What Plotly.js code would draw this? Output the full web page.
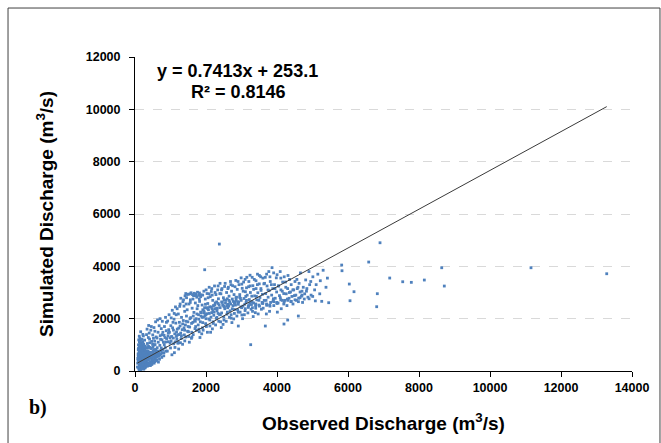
<!DOCTYPE html>
<html>
<head>
<meta charset="utf-8">
<script src="https://cdn.plot.ly/plotly-3.0.1.min.js"></script>
<style>
html,body{margin:0;padding:0;background:#fff;}
#chart{width:661px;height:443px;}
</style>
</head>
<body>
<div id="chart"></div>
<script>
// Observed (x) and simulated (y) discharge, m3/s
const obsQ = [
120,150,180,95,210,240,130,170,260,200,110,145,230,280,190,125,250,160,215,275,105,140,235,185,300,90,265,155,205,120,175,225,290,135,245,195,85,115,285,230,165,255,205,140,180,300,220,160,270,100,190,240,130,210,280,150,175,265,120,230,
310,330,360,390,420,450,480,510,540,570,320,350,380,410,440,470,500,530,560,590,340,400,460,520,580,370,430,490,550,600,315,345,375,405,435,465,495,525,555,585,325,385,445,505,565,355,415,475,535,595,362,418,482,546,578,
610,640,670,700,730,760,790,820,850,880,620,650,680,710,740,770,800,830,860,890,625,655,690,720,755,785,815,845,875,635,705,765,825,885,660,740,810,870,
910,940,970,1000,1030,1060,1090,1120,1150,1180,920,960,1010,1050,1100,1140,1190,930,990,1040,1080,1130,1170,950,1020,1070,1110,1160,1200,985,
1210,1240,1270,1300,1330,1360,1390,1420,1450,1480,1220,1260,1310,1350,1400,1440,1490,1230,1280,1340,1380,1430,1470,1250,1380,1430,1410,1460,1290,
1510,1540,1570,1600,1630,1660,1690,1720,1750,1780,1520,1560,1610,1650,1700,1740,1790,1530,1590,1640,1680,1730,1770,1550,1580,1620,1670,1710,1760,1800,1500,1815,1860,
1810,1840,1870,1900,1930,1960,1990,2020,2050,2080,1820,1850,1890,1940,1980,2030,2070,1830,1880,1920,1970,2010,2060,2090,1910,1950,2000,2040,2100,1860,2025,1985,
2110,2140,2170,2200,2230,2260,2290,2320,2350,2380,2120,2150,2190,2240,2280,2330,2370,2130,2180,2220,2270,2310,2360,2390,2160,2210,2250,2300,2340,2395,2175,
2410,2440,2470,2500,2530,2560,2590,2620,2650,2680,2420,2450,2490,2540,2580,2630,2670,2430,2480,2520,2570,2610,2660,2690,2460,2510,2600,2640,
2710,2740,2770,2800,2830,2860,2890,2920,2950,2980,2720,2750,2790,2840,2880,2930,2970,2730,2780,2820,2870,2910,2960,2990,2760,2850,
3010,3040,3070,3100,3130,3160,3190,3220,3250,3280,3020,3060,3110,3150,3200,3240,3290,3030,3080,3140,3180,3230,3270,3120,
3310,3340,3370,3400,3430,3460,3490,3520,3550,3580,3320,3360,3410,3450,3500,3540,3590,3330,3390,3470,3560,3420,
3610,3640,3680,3710,3750,3780,3820,3850,3880,3630,3670,3720,3770,3810,3860,3700,3790,3890,
3910,3950,3990,4030,4070,4110,4150,4190,3930,3980,4040,4090,4160,4010,4120,
4220,4260,4300,4340,4380,4420,4470,4240,4310,4400,4450,4280,4490,
4530,4570,4610,4650,4690,4740,4560,4660,4720,4780,
4830,4870,4920,4960,5010,5060,4900,5080,
5150,5220,5300,5260,5380,5456,5420,
2376,1963,3259,4601,4301,4197,3671,2910,5822,5831,6037,6169,6057,6583,6902,6826,6808,7175,7541,7784,8150,8640,8713,11155,13288,
70,75,80,88,92,98,102,108,112,118,124,128,134,138,142,148,152,158,162,168,172,178,182,188,192,198,202,208,212,218,222,228,232,238,242,248,252,258,262,268,272,278,282,288,294,305,312,322,335,342,352,358,368,378,388,398,408,422,438,452,468,486,502,516,532,548,562,576,592,606,618,646,672,698,724,752,
143,187,226,263,117,156,199,247,286,318,347,391,433,476,521,
938,1017,1083,1168,1232,1287,1342,1398,1441,1497,1548,1593,1641,1699,1743,1797,1848,1893,1941,1998,2047,2092,2149,2193,2248,2291,2343,2398,2441,2497,2549,2591,2648,2693,2741,2799,2843,2897,2948,2991,3047,3093,3141,3197,3243,3298,3342,3397,3448,3491,3547,3593,3649,3691,3747,3793,3841,3898,3943,3991,4047,4093,4149,4191,4247,4291,4349,4391,4447,4549,4591,4649,4703,4768,4841,
1104,1188,1271,1366,1452,1557,1633,1728,1812,1907,2003,2088,2162,2257,2341,2438,2523,2617,2702,2818,2903,3008,3102,3207,3301,3408,3503,3602,3708,3801,3906,4002,4108,4203,4352,4507,4622,4808,4951,5103,
1126,1213,1308,1402,1507,1603,1708,1802,1908,2003,2107,2202,2308,2404,2506,2603,2708,2802,2907,3004,3106,3203,3308,3402,3507,3603,3706,3802,3907,4003,4106,4202,4307,4402,4508,4603,4707,4904,5006,5204
];
const simQ = [
80,210,140,320,260,390,450,520,180,610,690,760,560,470,850,930,720,1010,1120,880,1190,1260,1340,390,300,560,640,300,460,620,700,820,950,1080,1030,1210,420,240,120,90,60,330,160,540,980,660,1400,1500,1180,870,740,240,160,380,560,640,430,790,1330,980,
180,420,290,650,220,510,380,760,300,610,880,1050,940,1220,870,1130,1380,990,1520,820,1600,1450,1700,1250,1880,560,720,580,450,700,340,760,1280,480,360,860,1020,640,1140,400,1390,1740,1560,920,1010,200,900,250,1660,1300,690,1080,710,820,540,
420,760,560,980,640,1190,820,1360,900,1540,1260,1480,1730,1350,1620,1900,1100,1700,2050,1240,890,1100,450,1210,520,1480,700,1280,760,1950,2000,1390,1010,1860,340,880,580,1110,
760,1120,1480,880,1320,1650,1040,1420,1830,1210,1910,2150,1730,2320,1980,2450,1600,1340,1060,620,1260,1110,1490,1580,2030,1860,700,2150,1380,1270,
1060,1390,1720,1240,1580,1930,1380,1760,2100,1520,2180,2470,2050,2650,2280,2560,1880,840,1080,1020,1650,1300,2340,1860,2480,2960,2870,2930,2780,
1320,1680,2040,1480,1860,2240,1620,2000,2380,1760,2560,2720,2400,2880,2600,2820,2150,1100,1250,1390,1950,1560,2500,2950,2990,2920,2970,2940,3010,2890,2930,2980,2910,
1500,1880,2230,1650,2060,2420,1810,2190,2580,1990,2660,2840,2520,3050,2750,2960,2340,1280,1420,1560,2120,1700,2800,3200,2340,2230,2000,1480,2450,2100,2420,2550,
1720,2060,2380,1880,2250,2600,2010,2400,2760,2160,2840,3040,2700,3250,2920,3100,2520,1480,1610,2130,1760,2300,1900,2960,2230,2500,2380,2640,2200,3350,2900,
1880,2220,2520,2060,2380,2700,2170,2550,2860,2300,2950,3150,2800,3350,3000,3200,2640,1660,1780,2450,1900,2420,2050,3420,2620,2720,2760,2480,
2020,2380,2660,2200,2520,2820,2340,2640,2920,2450,3050,3260,2920,3460,3120,3300,2780,1850,1990,2620,2100,2550,2250,3560,2500,2700,
2140,2480,2770,2310,2620,2900,2430,2730,3000,2540,3160,3400,3030,3580,3220,3660,2860,2000,2150,2700,2220,2600,2360,2850,
2280,2600,2870,2400,2720,2990,2520,2810,3080,2620,3260,3500,3150,3700,3330,3600,2930,2080,2230,2180,2360,2850,
2400,2700,2960,2510,2820,3070,2620,2900,3150,3330,3580,3250,3800,3420,3950,2180,2280,2680,
2500,2780,3020,2600,2880,3100,2700,2960,3300,3560,3250,3800,3400,2250,2380,
2700,2950,3150,2780,3020,2850,3100,3400,3650,3300,2560,2500,2880,
2900,3150,2780,3020,2860,3200,3500,3750,2620,2950,
3050,2820,3300,2900,3600,3100,3800,2680,
3700,3450,3850,2662,3200,2610,3550,
4851,3870,1006,2101,1948,1795,1719,1719,4049,3832,3323,3030,2686,4164,4901,2954,2457,3553,3411,3388,3476,3946,3247,3946,3717,
150,300,480,650,820,1000,110,380,540,760,1120,300,680,900,90,420,1180,560,820,250,1080,620,350,920,520,130,780,1010,330,680,150,460,880,620,140,510,930,410,240,690,360,800,210,590,410,520,720,260,610,450,880,320,760,420,250,580,700,530,620,300,460,540,410,680,520,640,360,760,520,600,540,650,700,620,780,700,
200,170,230,120,40,60,100,70,150,230,190,260,210,300,330,
1450,1150,1560,1320,1640,1450,1800,1560,1900,1700,2000,1820,2100,1900,2180,1980,2250,2050,2300,2150,2380,2200,2450,2300,2520,2380,2580,2420,2640,2480,2600,2500,2700,2560,2750,2600,2800,2640,2820,2700,3050,2550,3180,2480,3250,2650,3120,2500,3300,2700,3150,2580,3350,2700,3100,2520,3300,2760,3150,2620,3250,2800,3050,2560,3200,2750,3000,2650,3100,2700,3200,2800,3050,2750,3150,
2200,2380,2560,2720,2800,2620,2750,2880,2750,2900,3100,2950,3150,3000,3250,3100,3230,3150,3300,3220,3420,3320,3500,3420,3580,3450,3650,3550,3700,3600,3750,3680,3550,3600,3500,3420,3350,3480,3420,3300,
900,1100,1350,1150,1500,1300,1700,1600,1850,1750,1950,1820,2050,2150,1950,2250,2150,2350,2250,2420,2380,2500,2420,2560,2480,2600,2560,2480,2650,2580,2720,2640,2700,2660,2720,2650,2900,2760,2850,2950
];
// Linear fit shown on the chart
const slope = 0.7413, intercept = 253.1;
const eqText = "y = 0.7413x + 253.1";
const r2Text = "R² = 0.8146";
const xTicks = [0,2000,4000,6000,8000,10000,12000,14000];
const yTicks = [0,2000,4000,6000,8000,10000,12000];

const xmin = Math.min(...obsQ), xmax = Math.max(...obsQ);
const FONT = "Liberation Sans, Arial, sans-serif";

const traces = [
  {x: obsQ, y: simQ, type: 'scatter', mode: 'markers',
   marker: {color: '#4f81bd', size: 2.8, symbol: 'square', line: {width: 0}},
   hoverinfo: 'skip', showlegend: false},
  {x: [xmin, xmax], y: [slope*xmin+intercept, slope*xmax+intercept],
   type: 'scatter', mode: 'lines', line: {color: '#3a3a3a', width: 1},
   hoverinfo: 'skip', showlegend: false}
];

const layout = {
  width: 661, height: 443,
  margin: {l: 135, r: 29, t: 57, b: 72, pad: 0},
  paper_bgcolor: '#fff', plot_bgcolor: '#fff',
  font: {family: FONT, color: '#000'},
  showlegend: false,
  xaxis: {
    range: [0, 14000], tickvals: xTicks, ticktext: xTicks.map(String),
    showline: true, linecolor: '#000', linewidth: 1,
    ticks: 'outside', ticklen: 5, tickcolor: '#000', tickwidth: 1,
    showgrid: false, zeroline: false,
    tickfont: {family: FONT, size: 12.5, weight: 'bold', color: '#000'},
    title: {text: 'Observed Discharge (m<sup>3</sup>/s)', standoff: 22,
            font: {family: FONT, size: 19, weight: 'bold', color: '#000'}},
    automargin: false
  },
  yaxis: {
    range: [0, 12000], tickvals: yTicks, ticktext: yTicks.map(String),
    showline: true, linecolor: '#000', linewidth: 1,
    ticks: 'outside', ticklen: 5, tickcolor: '#000', tickwidth: 1,
    showgrid: true, gridcolor: '#d9d9d9', griddash: 'dash', gridwidth: 1,
    zeroline: false, ticklabelstandoff: 6,
    tickfont: {family: FONT, size: 12.5, weight: 'bold', color: '#000'},
    title: {text: 'Simulated Discharge (m<sup>3</sup>/s)', standoff: 27,
            font: {family: FONT, size: 19, weight: 'bold', color: '#000'}},
    automargin: false
  },
  annotations: [
    {text: eqText, xref: 'paper', yref: 'paper', x: 0.207, y: 0.955,
     xanchor: 'center', yanchor: 'middle', showarrow: false,
     font: {family: FONT, size: 18, weight: 'bold', color: '#000'}},
    {text: r2Text, xref: 'paper', yref: 'paper', x: 0.209, y: 0.890,
     xanchor: 'center', yanchor: 'middle', showarrow: false,
     font: {family: FONT, size: 18, weight: 'bold', color: '#000'}},
    {text: 'b)', xref: 'paper', yref: 'paper', x: -0.196, y: -0.115,
     xanchor: 'center', yanchor: 'middle', showarrow: false,
     font: {family: 'Liberation Serif, Times New Roman, serif', size: 20, weight: 'bold', color: '#000'}}
  ],
  shapes: [
    {type: 'rect', xref: 'paper', yref: 'paper',
     x0: -0.2555, x1: 1.0563, y0: -0.4, y1: 1.156,
     line: {color: '#404040', width: 1}, fillcolor: 'rgba(0,0,0,0)', layer: 'below'}
  ]
};

Plotly.newPlot('chart', traces, layout, {staticPlot: true, displayModeBar: false});
</script>
</body>
</html>
